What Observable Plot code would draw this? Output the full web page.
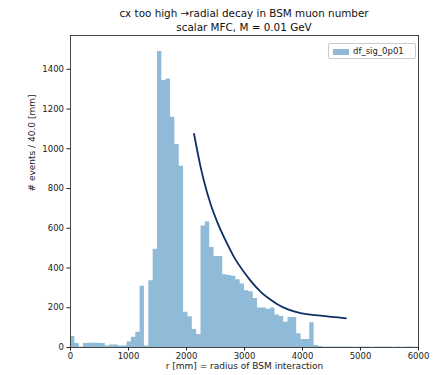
<!DOCTYPE html>
<html><head><meta charset="utf-8">
<script src="https://cdn.jsdelivr.net/npm/d3@7"></script>
<script src="https://cdn.jsdelivr.net/npm/@observablehq/plot@0.6"></script>
<style>
body{margin:0;background:#fff;font-family:"DejaVu Sans",sans-serif;}
#wrap{position:relative;width:444px;height:375px;}
#title{position:absolute;left:70px;width:348px;top:6px;text-align:center;font-size:10.4px;line-height:14px;color:#111;}
#legend{position:absolute;left:328px;top:43px;width:88px;height:16px;border:1px solid #ccc;border-radius:2px;background:#fff;box-sizing:border-box;font-size:8.5px;color:#222;}
#legend .sw{position:absolute;left:4px;top:5px;width:16px;height:6px;background:#8fbbd9;}
#legend .lb{position:absolute;left:24px;top:2px;}
</style></head>
<body><div id="wrap"><div id="chart"></div>
<div id="title">cx too high →radial decay in BSM muon number<br>scalar MFC, M = 0.01 GeV</div>
<div id="legend"><span class="sw"></span><span class="lb">df_sig_0p01</span></div>
</div>
<script>
const binWidth = 75;
const counts = [55,20,3,20,22,22,22,20,8,12,12,8,8,28,52,77,308,7,336,495,
  1490,1343,1351,1159,1022,912,177,155,90,65,
  612,632,503,458,458,366,362,358,341,320,286,281,247,199,199,192,199,164,156,127,151,151,69,40,40,124,10,
  5,3,2,3,2,3,2,2,1,2,3,2,1,2,2,3,2,1,2,1,2,2,1];
const curveR = [2130,2246,2303,2418,2533,2705,2820,2991,3107,3279,3451,3566,3738,3967,4311,4750];
const curveN = [1075,905,835,720,630,520,455,380,335,280,240,218,193,173,160,147];
const xTicks = [0,1000,2000,3000,4000,5000,6000];
const yTicks = [0,200,400,600,800,1000,1200,1400];

const steps = counts.map((c,i)=>({x:i*binWidth, n:c}));
steps.push({x:counts.length*binWidth, n:counts[counts.length-1]});
const curve = curveR.map((r,i)=>({r, n:curveN[i]}));

const chart = Plot.plot({
  width:444, height:375,
  marginLeft:70, marginRight:26, marginTop:35, marginBottom:28,
  style:{fontFamily:"DejaVu Sans, sans-serif", fontSize:"8.5px", color:"#222", background:"#fff"},
  x:{domain:[0,6000]},
  y:{domain:[0,1570]},
  marks:[
    Plot.areaY(steps,{x:"x",y:"n",fill:"#8fbbd9",curve:"step-after"}),
    Plot.line(curve,{x:"r",y:"n",stroke:"#0c2f66",strokeWidth:1.8,curve:"monotone-x"}),
    Plot.frame({stroke:"#333",strokeWidth:0.9}),
    Plot.axisX({ticks:xTicks,tickSize:3.5,tickPadding:2,label:null,tickFormat:d=>String(d)}),
    Plot.axisY({ticks:yTicks,tickSize:3.5,tickPadding:3,label:null,tickFormat:d=>String(d)}),
    Plot.text(["r [mm] = radius of BSM interaction"],{frameAnchor:"bottom",dy:21,fontSize:9,fill:"#222"}),
    Plot.text(["# events / 40.0 [mm]"],{frameAnchor:"left",dx:-38,rotate:-90,fontSize:9,fill:"#222"})
  ]
});
document.getElementById("chart").appendChild(chart);
</script></body></html>
